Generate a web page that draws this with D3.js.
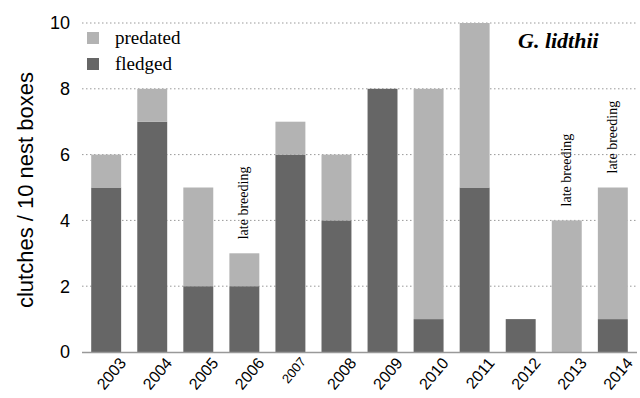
<!DOCTYPE html>
<html>
<head>
<meta charset="utf-8">
<script src="https://cdn.jsdelivr.net/npm/d3@7"></script>
<style>
  body { margin: 0; background: #fff; }
</style>
</head>
<body>
<script>
const years = ["2003","2004","2005","2006","2007","2008","2009","2010","2011","2012","2013","2014"];
const fledged = [5, 7, 2, 2, 6, 4, 8, 1, 5, 1, 0, 1];
const predated = [1, 1, 3, 1, 1, 2, 0, 7, 5, 0, 4, 4];
const yTicks = [0, 2, 4, 6, 8, 10];
const lateYears = ["2006", "2013", "2014"];

const width = 640, height = 398;
const mLeft = 82, mRight = 637, mTop = 23, mBottom = 352;

let svg = d3.select("body").append("svg")
    .attr("width", width)
    .attr("height", height);

let x = d3.scaleBand().domain(years).range([mLeft, mRight])
    .paddingInner(0.35).paddingOuter(0.2);
let y = d3.scaleLinear().domain([0, 10]).range([mBottom, mTop]);

// gridlines
svg.selectAll(".grid").data(yTicks.filter(d => d > 0)).enter()
    .append("line")
    .attr("x1", mLeft).attr("x2", mRight)
    .attr("y1", d => y(d)).attr("y2", d => y(d))
    .attr("stroke", "#999").attr("stroke-width", 1)
    .attr("stroke-dasharray", "1.5,2.5");

// y tick labels
svg.selectAll(".ylab").data(yTicks).enter()
    .append("text")
    .attr("x", 70).attr("y", d => y(d))
    .attr("dy", "0.36em")
    .attr("text-anchor", "end")
    .attr("font-family", "Liberation Sans, Arial, sans-serif")
    .attr("font-size", 18)
    .text(d => d);

// stacked bars
let rows = years.map((yr, i) => ({year: yr, f: fledged[i], p: predated[i]}));
svg.selectAll(".fl").data(rows).enter()
    .append("rect")
    .attr("x", d => x(d.year))
    .attr("width", x.bandwidth())
    .attr("y", d => y(d.f))
    .attr("height", d => y(0) - y(d.f))
    .attr("fill", "#666666");
svg.selectAll(".pr").data(rows).enter()
    .append("rect")
    .attr("x", d => x(d.year))
    .attr("width", x.bandwidth())
    .attr("y", d => y(d.f + d.p))
    .attr("height", d => y(d.f) - y(d.f + d.p))
    .attr("fill", "#b3b3b3");

// x axis line
svg.append("line")
    .attr("x1", mLeft).attr("x2", mRight)
    .attr("y1", mBottom + 0.5).attr("y2", mBottom + 0.5)
    .attr("stroke", "#999").attr("stroke-width", 1.5);

// x labels
svg.selectAll(".xlab").data(years).enter()
    .append("text")
    .attr("transform", d => `translate(${x(d) + x.bandwidth() / 2 + (d == "2007" ? 9 : 12)},${mBottom + 4}) rotate(-50)`)
    .attr("text-anchor", "end")
    .attr("dy", "0.72em")
    .attr("font-family", "Liberation Sans, Arial, sans-serif")
    .attr("font-size", d => d == "2007" ? 13 : 16)
    .text(d => d);

// y axis title
svg.append("text")
    .attr("transform", `translate(33,190) rotate(-90)`)
    .attr("text-anchor", "middle")
    .attr("font-family", "Liberation Sans, Arial, sans-serif")
    .attr("font-size", 22)
    .text("clutches / 10 nest boxes");

// legend
let legend = [["predated", "#b3b3b3"], ["fledged", "#666666"]];
legend.forEach((l, i) => {
    svg.append("rect")
        .attr("x", 87).attr("y", 32 + i * 26)
        .attr("width", 12).attr("height", 12)
        .attr("fill", l[1]);
    svg.append("text")
        .attr("x", 115).attr("y", 44 + i * 26)
        .attr("font-family", "Liberation Serif, serif")
        .attr("font-size", 19)
        .text(l[0]);
});

// species
svg.append("text")
    .attr("x", 518).attr("y", 48)
    .attr("font-family", "Liberation Serif, serif")
    .attr("font-size", 22)
    .attr("font-weight", "bold")
    .attr("font-style", "italic")
    .text("G. lidthii");

// annotations
let lateRows = rows.filter(d => lateYears.includes(d.year));
svg.selectAll(".late").data(lateRows).enter()
    .append("text")
    .attr("transform", d => `translate(${x(d.year) + x.bandwidth() / 2 + 4},${y(d.f + d.p) - 14}) rotate(-90)`)
    .attr("font-family", "Liberation Serif, serif")
    .attr("font-size", 14)
    .text("late breeding");
</script>
</body>
</html>
